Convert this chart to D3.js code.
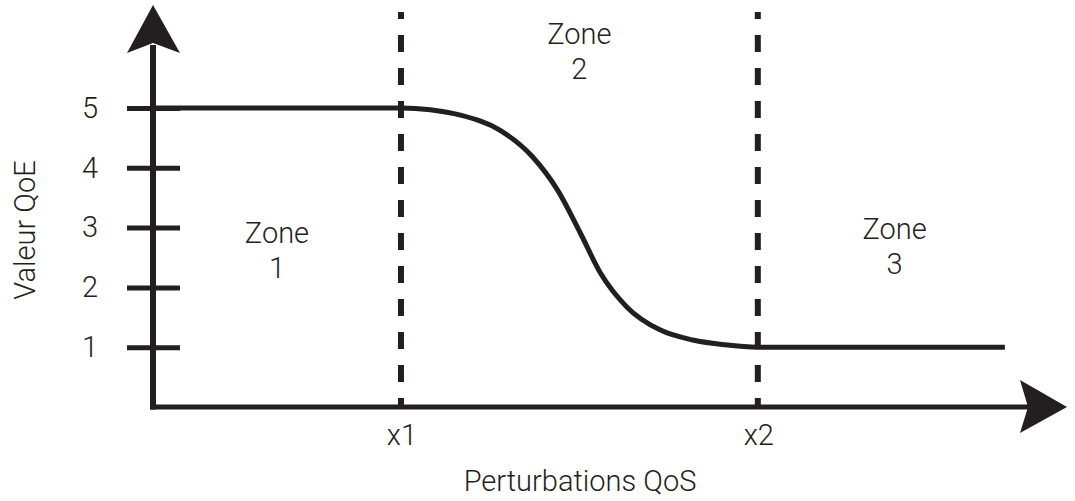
<!DOCTYPE html>
<html>
<head>
<meta charset="utf-8">
<script src="https://cdn.jsdelivr.net/npm/d3@7"></script>
<style>
  html, body { margin: 0; padding: 0; background: #fff; }
  svg text { font-family: "Roboto", "Liberation Sans", sans-serif; font-weight: 300; fill: #231f20; }
</style>
</head>
<body>
<div id="chart"></div>
<script>
// QoE values along the y axis
const qoeTicks = [1, 2, 3, 4, 5];

// thresholds on the QoS axis (0-100 arbitrary units)
const thresholdLabels = ["x1", "x2"];
const thresholdValues = [27.1, 66.1];

// the QoE curve
const curveX = [0, 27.1, 30.3, 33.6, 37.9, 41.5, 44.2, 46.7, 48.9, 51.8, 55.4, 59.0, 62.5, 66.1, 93.1];
const curveY = [5, 5, 4.97, 4.88, 4.63, 4.18, 3.63, 2.91, 2.24, 1.67, 1.29, 1.12, 1.04, 1, 1];

const zoneNames = ["Zone", "Zone", "Zone"];
const zoneNumbers = ["1", "2", "3"];

const xTitle = "Perturbations QoS";
const yTitle = "Valeur QoE";

const width = 1075,
      height = 501,
      ink = "#231f20",
      fontSize = "29px";

let svg = d3.select("#chart")
            .append("svg")
            .attr("width", width)
            .attr("height", height);

// origin of the axes is at (153, 407)
let x = d3.scaleLinear().domain([0, 100]).range([153, 1068]);
let y = d3.scaleLinear().domain([0, 5]).range([407, 108]);

/////// DASHED THRESHOLDS ///////
svg.append("g")
   .selectAll("line")
   .data(thresholdValues)
   .enter()
   .append("line")
   .attr("x1", d => x(d))
   .attr("x2", d => x(d))
   .attr("y1", 12)
   .attr("y2", y(0))
   .attr("stroke", ink)
   .attr("stroke-width", 6)
   .attr("stroke-dasharray", "17,16")
   .attr("stroke-dashoffset", 10);

/////// AXES ///////
let yAxis = svg.append("g")
               .attr("transform", `translate(${x(0)},0)`)
               .call(d3.axisLeft(y)
                       .tickValues(qoeTicks)
                       .tickFormat(d3.format("d"))
                       .tickSize(26));
yAxis.select(".domain").remove();
yAxis.selectAll(".tick line")
     .attr("x1", -26)
     .attr("x2", 27)
     .attr("stroke", ink)
     .attr("stroke-width", 5);
yAxis.selectAll(".tick text")
     .attr("x", -63)
     .attr("text-anchor", "middle")
     .style("font-size", fontSize)
     .attr("fill", ink);

// axis lines
svg.append("line")
   .attr("x1", x(0)).attr("x2", x(0))
   .attr("y1", y(0) + 2.5).attr("y2", 45)
   .attr("stroke", ink).attr("stroke-width", 6);
svg.append("line")
   .attr("x1", x(0) - 3).attr("x2", 1030)
   .attr("y1", y(0)).attr("y2", y(0))
   .attr("stroke", ink).attr("stroke-width", 5);

// arrow heads
const ox = x(0), oy = y(0);
svg.append("path")
   .attr("d", `M${ox},5 L${ox + 27},53 L${ox},43 L${ox - 26},53 Z`)
   .attr("fill", ink);
svg.append("path")
   .attr("d", `M1067,${oy} L1020,${oy - 27} L1028,${oy} L1020,${oy + 26} Z`)
   .attr("fill", ink);

/////// CURVE ///////
let line = d3.line()
             .x(d => x(d[0]))
             .y(d => y(d[1]))
             .curve(d3.curveMonotoneX);

svg.append("path")
   .datum(d3.zip(curveX, curveY))
   .attr("d", line)
   .attr("fill", "none")
   .attr("stroke", ink)
   .attr("stroke-width", 5);

/////// LABELS ///////
svg.append("g")
   .selectAll("text")
   .data(thresholdLabels)
   .enter()
   .append("text")
   .attr("x", (d, i) => x(thresholdValues[i]) + 1)
   .attr("y", 445)
   .attr("text-anchor", "middle")
   .style("font-size", fontSize)
   .text(d => d);

// zone label centres: between axis / thresholds / arrow end
const zoneCentres = [
    (x(0) + x(thresholdValues[0])) / 2,
    (x(thresholdValues[0]) + x(thresholdValues[1])) / 2,
    (x(thresholdValues[1]) + x(96)) / 2
];
const zoneBaselines = [243, 44, 239];

let zones = svg.append("g")
               .selectAll("text")
               .data(zoneNames)
               .enter()
               .append("text")
               .attr("text-anchor", "middle")
               .style("font-size", fontSize)
               .attr("y", (d, i) => zoneBaselines[i]);
zones.append("tspan")
     .attr("x", (d, i) => zoneCentres[i])
     .text(d => d);
zones.append("tspan")
     .attr("x", (d, i) => zoneCentres[i])
     .attr("dy", 35)
     .text((d, i) => zoneNumbers[i]);

svg.append("text")
   .attr("x", 580)
   .attr("y", 491)
   .attr("text-anchor", "middle")
   .style("font-size", fontSize)
   .text(xTitle);

svg.append("text")
   .attr("transform", "translate(35,230) rotate(-90)")
   .attr("text-anchor", "middle")
   .style("font-size", fontSize)
   .text(yTitle);
</script>
</body>
</html>
